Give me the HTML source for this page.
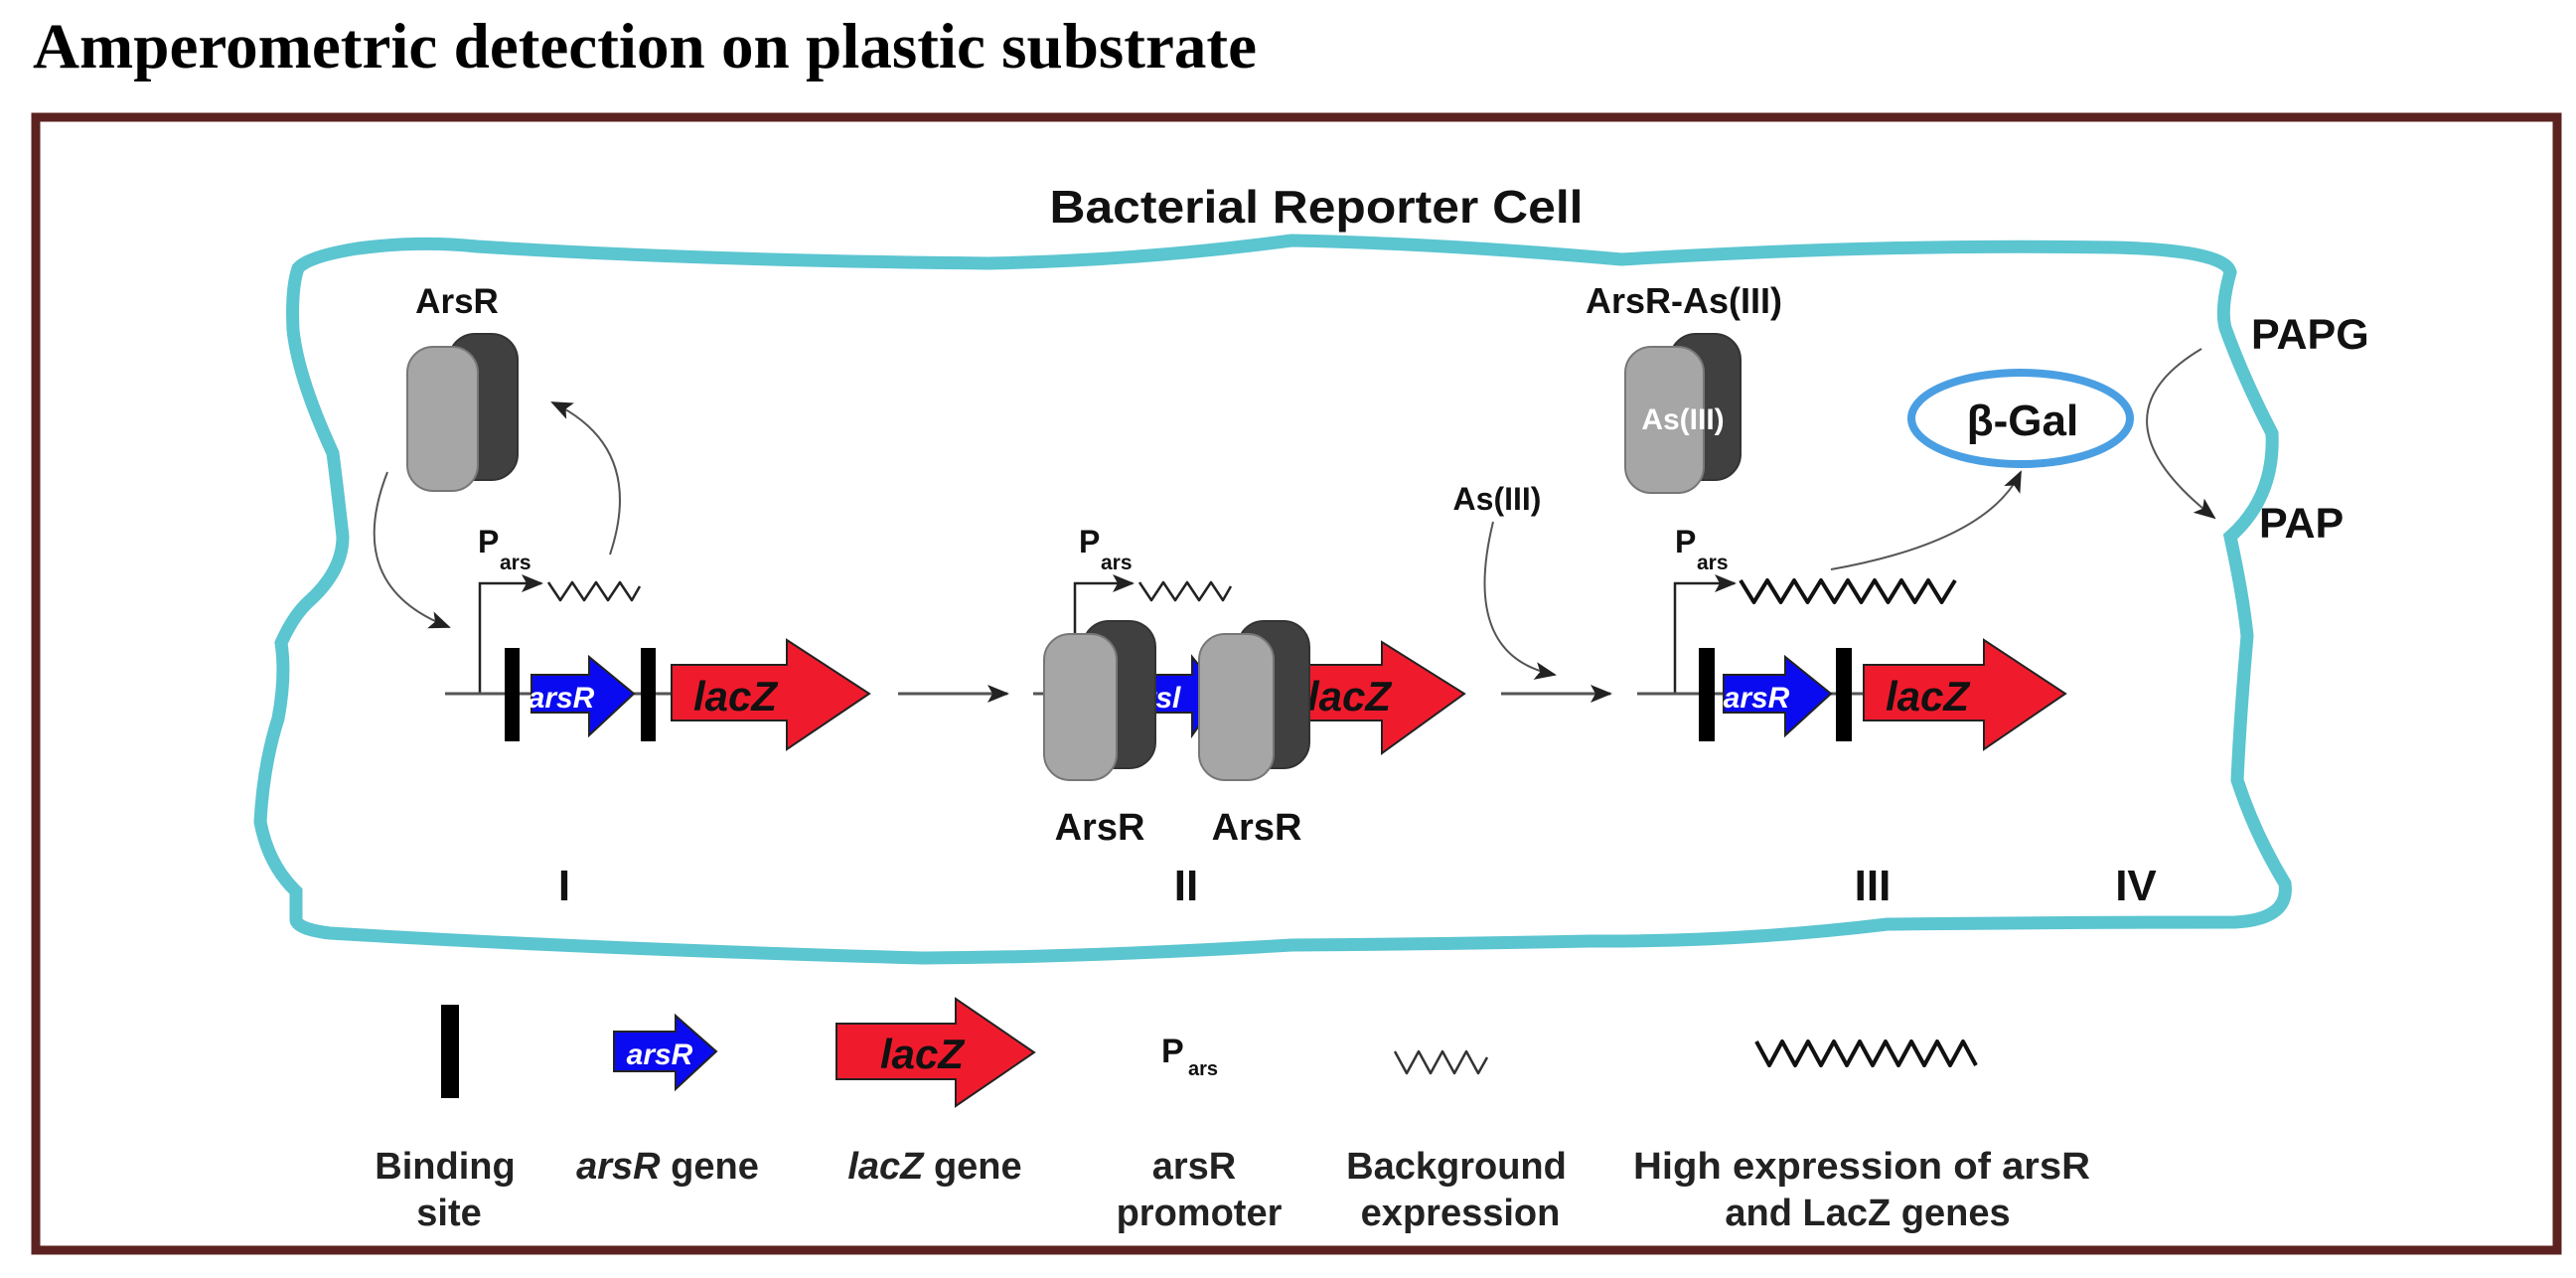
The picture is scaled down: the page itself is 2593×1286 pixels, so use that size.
<!DOCTYPE html>
<html><head><meta charset="utf-8"><style>
html,body{margin:0;padding:0;background:#fff;}
svg{display:block;}
text{font-family:"Liberation Sans",sans-serif;font-weight:bold;}
</style></head><body>
<svg width="2593" height="1286" viewBox="0 0 2593 1286" xmlns="http://www.w3.org/2000/svg">
<defs>
<marker id="ahb" markerWidth="22" markerHeight="18" refX="20" refY="9" orient="auto" markerUnits="userSpaceOnUse"><path d="M0,0 L22,9 L0,18 L5,9 z" fill="#222"/></marker>
</defs>
<text x="33" y="68" font-size="65" textLength="1232" lengthAdjust="spacingAndGlyphs" style="font-family:'Liberation Serif',serif">Amperometric detection on plastic substrate</text>
<rect x="36" y="118" width="2538" height="1140" fill="none" stroke="#5c2220" stroke-width="9"/>
<text x="1325" y="224" font-size="46" text-anchor="middle" fill="#111" textLength="537" lengthAdjust="spacingAndGlyphs">Bacterial Reporter Cell</text>
<path d="M300,270 Q310,258 360,250 Q420,242 480,248 Q700,262 995,265 Q1150,262 1300,242 Q1450,245 1632,261 Q1900,245 2129,249 Q2240,252 2245,274 Q2235,310 2240,330 Q2258,380 2287,436 Q2290,500 2245,540 Q2258,600 2262,640 Q2255,720 2252,785 Q2270,840 2300,889 Q2305,925 2250,928 Q2100,928 1900,930 Q1750,948 1600,947 Q1450,950 1300,951 Q1100,963 929,964 Q600,955 332,939 Q300,935 298,926 L298,897 Q270,870 262,827 Q265,770 280,723 Q288,680 283,647 Q295,620 310,606 Q345,575 345,540 Q340,495 335,456 Q300,380 295,332 Q293,290 300,270 Z" fill="none" stroke="#5bc5d0" stroke-width="13"/>
<!-- Stage I -->
<text x="460" y="315" font-size="35" text-anchor="middle" fill="#111">ArsR</text>
<rect x="452" y="336" width="69" height="147" rx="26" fill="#404040" stroke="#333" stroke-width="2"/>
<rect x="410" y="349" width="71" height="145" rx="26" fill="#a6a6a6" stroke="#777" stroke-width="2"/>
<path d="M614,558 Q650,450 556,405" fill="none" stroke="#555" stroke-width="2" marker-end="url(#ahb)"/>
<path d="M390,475 Q345,590 452,631" fill="none" stroke="#555" stroke-width="2" marker-end="url(#ahb)"/>
<text x="481" y="556" font-size="32" fill="#111">P</text><text x="503" y="573" font-size="21" fill="#111">ars</text>
<path d="M483,698 L483,587 L545,587" fill="none" stroke="#222" stroke-width="2.5" marker-end="url(#ahb)"/>
<path d="M552,586 l12,18 l12,-18 l12,18 l12,-18 l12,18 l12,-18 l12,18 l8,-14" fill="none" stroke="#222" stroke-width="2.5" stroke-linejoin="round"/>
<line x1="448" y1="698" x2="680" y2="698" stroke="#555" stroke-width="3"/>
<rect x="508" y="652" width="15" height="94" fill="#000"/>
<rect x="645" y="652" width="15" height="94" fill="#000"/>
<path d="M535,679 L593,679 L593,661 L638,698 L593,740 L593,717 L535,717 Z" fill="#0a0af0" stroke="#222" stroke-width="2"/>
<text x="565" y="712" font-size="30" font-style="italic" fill="#fff" text-anchor="middle">arsR</text>
<path d="M676,669 L792,669 L792,644 L875,698 L792,754 L792,725 L676,725 Z" fill="#ef1b2d" stroke="#222" stroke-width="2"/>
<text x="740" y="715" font-size="42" font-style="italic" fill="#111" text-anchor="middle">lacZ</text>
<line x1="904" y1="698" x2="1014" y2="698" stroke="#555" stroke-width="3" marker-end="url(#ahb)"/>
<text x="568" y="906" font-size="44" fill="#111" text-anchor="middle" font-weight="normal">I</text>
<!-- Stage II -->
<text x="1086" y="556" font-size="32" fill="#111">P</text><text x="1108" y="573" font-size="21" fill="#111">ars</text>
<path d="M1082,660 L1082,587 L1140,587" fill="none" stroke="#222" stroke-width="2.5" marker-end="url(#ahb)"/>
<path d="M1147,586 l12,18 l12,-18 l12,18 l12,-18 l12,18 l12,-18 l12,18 l8,-14" fill="none" stroke="#222" stroke-width="2.5" stroke-linejoin="round"/>
<line x1="1040" y1="698" x2="1400" y2="698" stroke="#555" stroke-width="3"/>
<path d="M1380,669 L1391,669 L1391,646 L1474,698 L1391,758 L1391,725 L1380,725 Z" fill="#ef1b2d" stroke="#222" stroke-width="2"/>
<rect x="1300" y="669" width="92" height="56" fill="#ef1b2d"/>
<line x1="1300" y1="669" x2="1392" y2="669" stroke="#222" stroke-width="2"/><line x1="1300" y1="725" x2="1392" y2="725" stroke="#222" stroke-width="2"/>
<text x="1358" y="715" font-size="42" font-style="italic" fill="#111" text-anchor="middle">lacZ</text>
<path d="M1150,679 L1200,679 L1200,661 L1230,698 L1200,740 L1200,717 L1150,717 Z" fill="#0a0af0" stroke="#222" stroke-width="2"/>
<text x="1170" y="712" font-size="30" font-style="italic" fill="#fff" text-anchor="middle">rsl</text>
<rect x="1090" y="625" width="73" height="148" rx="26" fill="#404040" stroke="#333" stroke-width="2"/>
<rect x="1051" y="638" width="73" height="147" rx="26" fill="#a6a6a6" stroke="#777" stroke-width="2"/>
<rect x="1246" y="625" width="72" height="148" rx="26" fill="#404040" stroke="#333" stroke-width="2"/>
<rect x="1207" y="638" width="75" height="147" rx="26" fill="#a6a6a6" stroke="#777" stroke-width="2"/>
<text x="1107" y="845" font-size="38" fill="#111" text-anchor="middle">ArsR</text>
<text x="1265" y="845" font-size="38" fill="#111" text-anchor="middle">ArsR</text>
<text x="1194" y="906" font-size="44" fill="#111" text-anchor="middle" font-weight="normal">II</text>
<line x1="1511" y1="698" x2="1621" y2="698" stroke="#555" stroke-width="3" marker-end="url(#ahb)"/>
<text x="1507" y="513" font-size="32" fill="#111" text-anchor="middle">As(III)</text>
<path d="M1503,525 Q1470,660 1565,679" fill="none" stroke="#555" stroke-width="2" marker-end="url(#ahb)"/>
<!-- Stage III -->
<text x="1695" y="315" font-size="36" fill="#111" text-anchor="middle">ArsR-As(III)</text>
<rect x="1681" y="336" width="71" height="147" rx="26" fill="#404040" stroke="#333" stroke-width="2"/>
<rect x="1636" y="349" width="79" height="147" rx="26" fill="#a6a6a6" stroke="#777" stroke-width="2"/>
<text x="1694" y="432" font-size="30" fill="#fff" text-anchor="middle" font-weight="normal">As(III)</text>
<text x="1686" y="556" font-size="32" fill="#111">P</text><text x="1708" y="573" font-size="21" fill="#111">ars</text>
<path d="M1686,698 L1686,587 L1746,587" fill="none" stroke="#222" stroke-width="2.5" marker-end="url(#ahb)"/>
<path d="M1752,584 l13.5,22 l13.5,-22 l13.5,22 l13.5,-22 l13.5,22 l13.5,-22 l13.5,22 l13.5,-22 l13.5,22 l13.5,-22 l13.5,22 l13.5,-22 l13.5,22 l13.5,-22 l13.5,22 l13.5,-22" fill="none" stroke="#111" stroke-width="4" stroke-linejoin="round"/>
<path d="M1843,573 Q2000,545 2034,475" fill="none" stroke="#555" stroke-width="2" marker-end="url(#ahb)"/>
<line x1="1648" y1="698" x2="1880" y2="698" stroke="#555" stroke-width="3"/>
<rect x="1710" y="652" width="16" height="94" fill="#000"/>
<rect x="1848" y="652" width="16" height="94" fill="#000"/>
<path d="M1735,679 L1797,679 L1797,661 L1843,698 L1797,740 L1797,717 L1735,717 Z" fill="#0a0af0" stroke="#222" stroke-width="2"/>
<text x="1768" y="712" font-size="30" font-style="italic" fill="#fff" text-anchor="middle">arsR</text>
<path d="M1876,669 L1997,669 L1997,644 L2079,698 L1997,754 L1997,725 L1876,725 Z" fill="#ef1b2d" stroke="#222" stroke-width="2"/>
<text x="1940" y="715" font-size="42" font-style="italic" fill="#111" text-anchor="middle">lacZ</text>
<text x="1885" y="906" font-size="44" fill="#111" text-anchor="middle" font-weight="normal">III</text>
<text x="2150" y="906" font-size="44" fill="#111" text-anchor="middle" font-weight="normal">IV</text>
<ellipse cx="2034" cy="421" rx="110" ry="46" fill="#fff" stroke="#4a9fe3" stroke-width="8"/>
<text x="2036" y="438" font-size="44" fill="#111" text-anchor="middle">β-Gal</text>
<text x="2266" y="351" font-size="43" fill="#111">PAPG</text>
<text x="2274" y="541" font-size="43" fill="#111">PAP</text>
<path d="M2216,351 Q2100,420 2229,521" fill="none" stroke="#555" stroke-width="2" marker-end="url(#ahb)"/>
<!-- Legend -->
<rect x="444" y="1011" width="18" height="94" fill="#000"/>
<path d="M618,1038 L680,1038 L680,1022 L721,1058 L680,1096 L680,1078 L618,1078 Z" fill="#0a0af0" stroke="#222" stroke-width="2"/>
<text x="664" y="1071" font-size="30" font-style="italic" fill="#fff" text-anchor="middle">arsR</text>
<path d="M842,1030 L962,1030 L962,1005 L1041,1059 L962,1113 L962,1086 L842,1086 Z" fill="#ef1b2d" stroke="#222" stroke-width="2"/>
<text x="928" y="1075" font-size="42" font-style="italic" fill="#111" text-anchor="middle">lacZ</text>
<text x="1169" y="1069" font-size="34" fill="#111" font-weight="normal">P</text><text x="1196" y="1082" font-size="20" fill="#111" font-weight="normal">ars</text>
<path d="M1404,1058 l12,22 l12,-22 l12,22 l12,-22 l12,22 l12,-22 l12,22 l9,-16" fill="none" stroke="#333" stroke-width="2.5" stroke-linejoin="round"/>
<path d="M1768,1048 l13,24 l13,-24 l13,24 l13,-24 l13,24 l13,-24 l13,24 l13,-24 l13,24 l13,-24 l13,24 l13,-24 l13,24 l13,-24 l13,24 l13,-24 l13,24" fill="none" stroke="#111" stroke-width="4" stroke-linejoin="round"/>
<g font-size="38" fill="#222" text-anchor="middle">
<text x="448" y="1186">Binding</text><text x="452" y="1233">site</text>
<text x="672" y="1186"><tspan font-style="italic">arsR</tspan> gene</text>
<text x="941" y="1186"><tspan font-style="italic">lacZ</tspan> gene</text>
<text x="1202" y="1186">arsR</text><text x="1207" y="1233">promoter</text>
<text x="1466" y="1186">Background</text><text x="1470" y="1233">expression</text>
<text x="1874" y="1186" textLength="460" lengthAdjust="spacingAndGlyphs">High expression of arsR</text><text x="1880" y="1233">and LacZ genes</text>
</g>
</svg>
</body></html>
